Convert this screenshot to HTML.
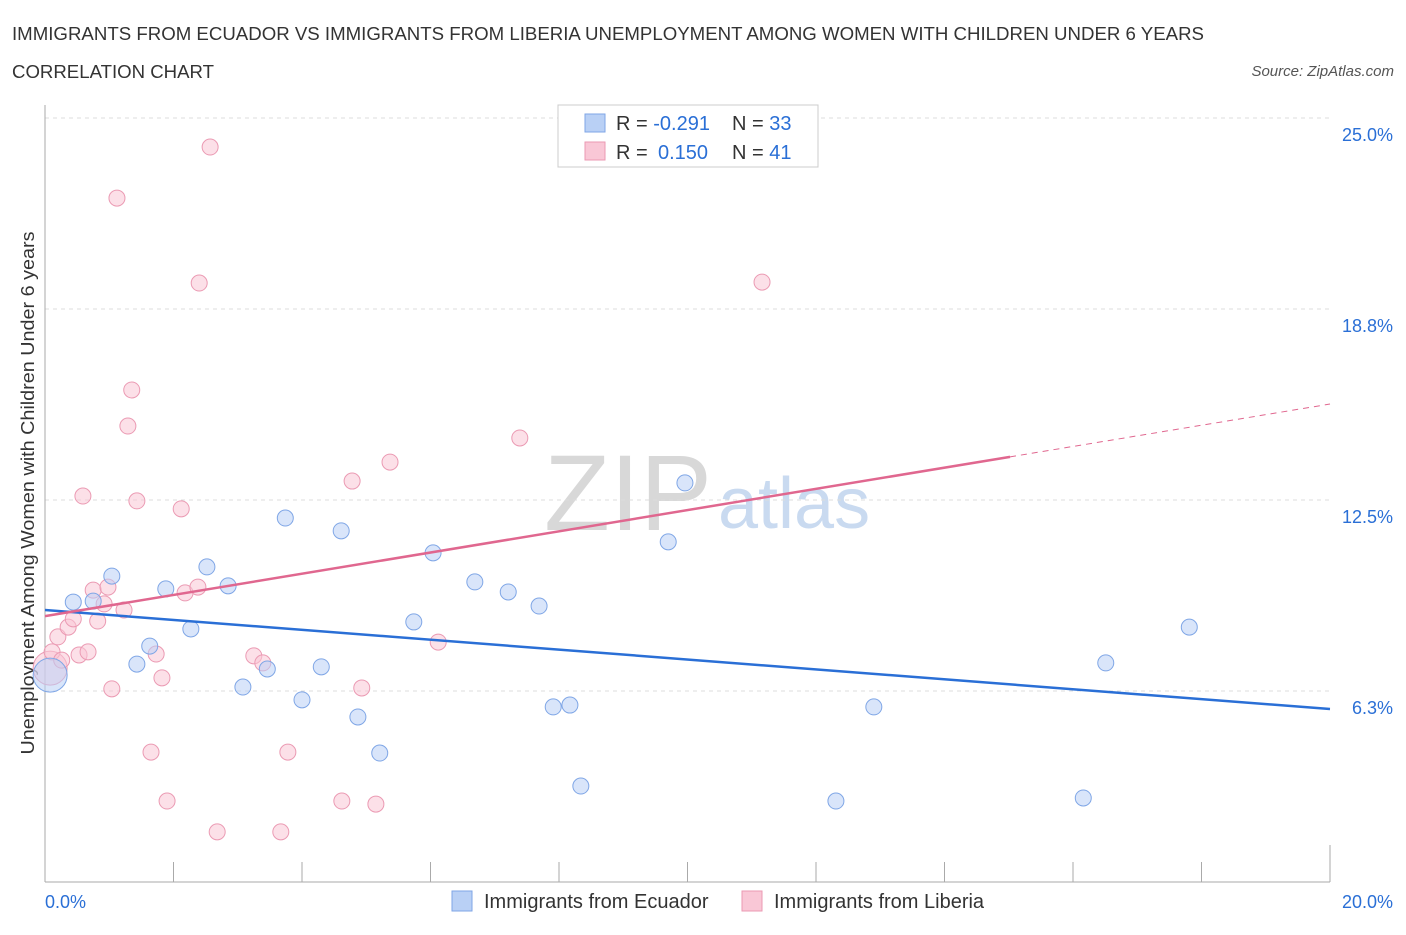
<!DOCTYPE html>
<html><head><meta charset="utf-8"><style>
body{margin:0;background:#fff;font-family:"Liberation Sans",sans-serif;}
svg text{font-family:"Liberation Sans",sans-serif;}
</style></head><body>
<svg id="c" width="1406" height="930" xmlns="http://www.w3.org/2000/svg">
<text x="12" y="40" font-size="18" fill="#333" textLength="1192" lengthAdjust="spacingAndGlyphs">IMMIGRANTS FROM ECUADOR VS IMMIGRANTS FROM LIBERIA UNEMPLOYMENT AMONG WOMEN WITH CHILDREN UNDER 6 YEARS</text>
<text x="12" y="78" font-size="18" fill="#333" textLength="202" lengthAdjust="spacingAndGlyphs">CORRELATION CHART</text>
<text x="1394" y="76" font-size="15" fill="#555" font-style="italic" text-anchor="end">Source: ZipAtlas.com</text>
<text x="712" y="530" font-size="108" fill="#d8d8d8" text-anchor="end" font-family="Liberation Serif">ZIP</text>
<text x="718" y="528" font-size="72" fill="#c9daf0">atlas</text>
<text transform="translate(34,493) rotate(-90)" font-size="18" fill="#333" text-anchor="middle" textLength="523" lengthAdjust="spacingAndGlyphs">Unemployment Among Women with Children Under 6 years</text>
<g id="grid"></g><g id="marks"></g>
<g>
<rect x="558" y="105" width="260" height="62" fill="#fff" stroke="#ccc"/>
<rect x="585" y="114" width="20" height="18" fill="#b9d0f5" stroke="#7fa6e6"/>
<rect x="585" y="142" width="20" height="18" fill="#f9c7d6" stroke="#eb9ab3"/>
<text x="616" y="130" font-size="20" fill="#333">R = <tspan fill="#2a6fd6">-0.291</tspan><tspan x="732">N = </tspan><tspan fill="#2a6fd6">33</tspan></text>
<text x="616" y="159" font-size="20" fill="#333">R = <tspan x="658" fill="#2a6fd6">0.150</tspan><tspan x="732">N = </tspan><tspan fill="#2a6fd6">41</tspan></text>
</g>
<g>
<rect x="452" y="891" width="20" height="20" fill="#b9d0f5" stroke="#7fa6e6"/>
<text x="484" y="908" font-size="20" fill="#333">Immigrants from Ecuador</text>
<rect x="742" y="891" width="20" height="20" fill="#f9c7d6" stroke="#eb9ab3"/>
<text x="774" y="908" font-size="20" fill="#333">Immigrants from Liberia</text>
</g>
</svg>
<script>
const yTicks=[6.25,12.5,18.75,25];
const yTickLabels=["6.3%","12.5%","18.8%","25.0%"];
const xTickCount=11;
const ecuadorX=[0.08,0.44,0.75,1.04,1.43,1.63,1.88,2.27,2.52,2.85,3.08,3.46,3.74,4.0,4.30,4.61,4.87,5.21,5.74,6.04,6.69,7.21,7.69,7.91,8.17,8.34,9.70,9.96,12.31,12.90,16.16,16.51,17.81];
const ecuadorY=[6.77,9.16,9.19,10.01,7.13,7.72,9.59,8.28,10.31,9.69,6.38,6.97,11.91,5.96,7.04,11.49,5.40,4.22,8.51,10.77,9.82,9.49,9.03,5.73,5.79,3.14,11.13,13.06,2.65,5.73,2.75,7.17,8.34];
const liberiaX=[0.08,0.11,0.20,0.26,0.36,0.44,0.53,0.59,0.67,0.75,0.82,0.92,0.98,1.04,1.12,1.23,1.29,1.35,1.43,1.65,1.73,1.82,1.90,2.12,2.18,2.38,2.40,2.57,2.68,3.25,3.39,3.67,3.78,4.62,4.78,4.93,5.15,5.37,6.12,7.39,11.16];
const liberiaY=[7.00,7.53,8.02,7.26,8.34,8.61,7.43,12.63,7.53,9.55,8.54,9.10,9.65,6.32,22.38,8.90,14.92,16.10,12.47,4.25,7.46,6.68,2.65,12.21,9.46,9.65,19.60,24.05,1.64,7.40,7.17,1.64,4.25,2.65,13.12,6.35,2.55,13.74,7.85,14.53,19.63];
const ecuadorTrend=[8.90,5.66];
const liberiaTrend=[8.70,15.64];
const liberiaSolidEnd=15.02;
const X=v=>45+v*64.25, Y=v=>882-v*30.56;
const NS="http://www.w3.org/2000/svg";
function mk(t,a,p){const e=document.createElementNS(NS,t);for(const k in a)e.setAttribute(k,a[k]);p.appendChild(e);return e;}
const g=document.getElementById('grid'),m=document.getElementById('marks');
yTicks.forEach((t,i)=>{
 const l=mk('line',{x1:45,x2:1330,y1:Y(t),y2:Y(t),stroke:'#ddd','stroke-dasharray':'4,4'},g);
 
 
 const tx=mk('text',{x:1393,y:Y(t)+23,'font-size':18,fill:'#2a6fd6','text-anchor':'end'},g);
 tx.textContent=yTickLabels[i];
 
 
});
const ya=mk('line',{x1:45,x2:45,y1:105,y2:882,stroke:'#aaa'},g);


const xa=mk('line',{x1:45,x2:1330,y1:882,y2:882,stroke:'#aaa'},g);


for(let i=0;i<xTickCount;i++){const v=i*2;
 const t=mk('line',{x1:X(v),x2:X(v),y1:882,y2:882,stroke:'#aaa'},g);
 if(i>0&&i<10){t.setAttribute('y2',862);}
 if(i==10)t.setAttribute('y2',845);
 
 }
[[0,"0.0%","start",45],[20,"20.0%","end",1393]].forEach(a=>{
 const t=mk('text',{x:a[3],y:908,'font-size':18,fill:'#2a6fd6','text-anchor':a[2]},g);t.textContent=a[1];
 
 });
function pts(xs,ys,fill,stroke,name){xs.forEach((x,i)=>{
 const c=mk('circle',{cx:X(x),cy:Y(ys[i]),r:i==0&&x<0.1?17:8,fill:fill,'fill-opacity':0.55,stroke:stroke,'stroke-width':1},m);
 
 });}
pts(liberiaX,liberiaY,'#f9c7d6','#eb9ab3','liberia-point');
pts(ecuadorX,ecuadorY,'#b9d0f5','#7fa6e6','ecuador-point');
const bl=mk('line',{x1:X(0),y1:Y(ecuadorTrend[0]),x2:X(20),y2:Y(ecuadorTrend[1]),stroke:'#2a6fd6','stroke-width':2.5},m);


const ym=liberiaTrend[0]+(liberiaTrend[1]-liberiaTrend[0])*liberiaSolidEnd/20;
const pl=mk('line',{x1:X(0),y1:Y(liberiaTrend[0]),x2:X(liberiaSolidEnd),y2:Y(ym),stroke:'#e0678f','stroke-width':2.5},m);


const pd=mk('line',{x1:X(liberiaSolidEnd),y1:Y(ym),x2:X(20),y2:Y(liberiaTrend[1]),stroke:'#e0678f','stroke-width':1,'stroke-dasharray':'6,5'},m);


</script>
</body></html>
